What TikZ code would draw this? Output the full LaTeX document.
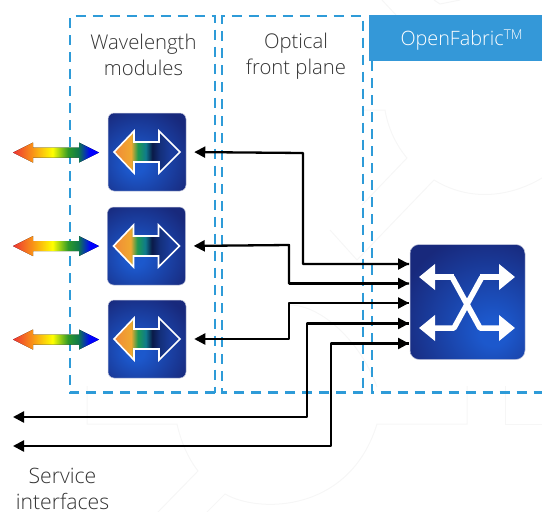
\documentclass[tikz,border=0pt]{standalone}
\usepackage{fontspec}
\setmainfont{Open Sans}[UprightFont=* Light]
\usetikzlibrary{arrows.meta,calc}
\definecolor{dashblue}{HTML}{2E9BD8}
\definecolor{ofblue}{HTML}{3498D8}
\definecolor{labelgray}{HTML}{333333}
\definecolor{rred}{HTML}{EE3333}
\definecolor{rorange}{HTML}{F89018}
\definecolor{rgreen}{HTML}{2E9A28}
\definecolor{rdgreen}{HTML}{0F7A4A}
\definecolor{iorange}{HTML}{F08A38}
\definecolor{iyellow}{HTML}{F0A830}
\definecolor{igreen}{HTML}{1F9A50}
\definecolor{iteal}{HTML}{0F7C8C}
\definecolor{iblack}{HTML}{0A1A48}
\definecolor{inavy}{HTML}{14307C}
\definecolor{iblue}{HTML}{1A3C9C}
\pgfdeclarehorizontalshading{rainbowsh}{100bp}{
  color(0bp)=(rred); color(25bp)=(rred);
  color(36bp)=(rorange); color(48bp)=(yellow);
  color(57bp)=(rgreen); color(63bp)=(rdgreen); color(70bp)=(blue); color(75bp)=(blue); color(100bp)=(blue)}
\pgfdeclarehorizontalshading{innersh}{100bp}{
  color(0bp)=(iorange); color(25bp)=(iorange);
  color(38bp)=(iyellow); color(43bp)=(igreen); color(49bp)=(iteal);
  color(54bp)=(iblack); color(60bp)=(inavy); color(68bp)=(iblue); color(100bp)=(iblue)}
\definecolor{bright}{HTML}{1C58CC}
\definecolor{navy}{HTML}{18297C}
\pgfdeclareradialshading{modsh}{\pgfpoint{-8bp}{-8bp}}{
  color(0bp)=(bright); color(6bp)=(bright); color(36bp)=(navy); color(100bp)=(navy)}
\pgfdeclareradialshading{swsh}{\pgfpoint{12bp}{-14bp}}{
  color(0bp)=(bright); color(6bp)=(bright); color(38bp)=(navy); color(100bp)=(navy)}
\tikzset{
  zone/.style={draw=dashblue,line width=2.2pt,dash pattern=on 10pt off 7pt},
  modbox/.style={minimum width=78pt,minimum height=78pt,rounded corners=6pt,shading=modsh,draw=navy!25,line width=.5pt,inner sep=0pt},
  swbox/.style={minimum width=115pt,minimum height=115pt,rounded corners=9pt,shading=swsh,draw=navy!25,line width=.5pt,inner sep=0pt},
  conn/.style={draw=black,line width=2.3pt,line join=round},
  tipfwd/.style={-{Triangle[length=11pt,width=11pt]}},
  tipback/.style={{Triangle[length=11pt,width=11pt]}-},
  caption/.style={text=labelgray,font=\fontsize{20.3}{26.5}\selectfont,align=center,inner sep=0pt},
  swline/.style={draw=white,line width=5.5pt,line join=round,-{Triangle[length=16pt,width=25pt]}},
  wm/.style={draw=black!3.5,line width=1pt},
}
\newcommand{\rainbowarrow}[1]{%
  \fill[shading=rainbowsh,shift={(#1)}] (13,0)--(33,-10)--(33,-5)--(79,-5)--(79,-10)--(99,0)--(79,10)--(79,5)--(33,5)--(33,10)--cycle;}
\newcommand{\innerarrow}[1]{%
  \draw[shading=innersh,draw=white,line width=1.6pt,miter limit=4,shift={(#1)}] (-33,0)--(-13,-21)--(-13,-10)--(12,-10)--(12,-21)--(33,0)--(12,21)--(12,10)--(-13,10)--(-13,21)--cycle;}
\begin{document}
\begin{tikzpicture}[x=1pt,y=-1pt]
\useasboundingbox (0,0) rectangle (542,512);
% watermark
\draw[wm] (87,386)--(87,424)--(177,424) .. controls (181,442) and (188,458) .. (198,471) -- (158,512);
\draw[wm] (207,512)--(225,494) .. controls (260,514) and (350,512) .. (377,424) -- (467,424) -- (467,386);
\draw[wm] (505,386)--(505,424)--(542,424);
\draw[wm] (362,110)--(385,110) .. controls (388,128) and (396,145) .. (407,158) -- (362,205);
\draw[wm] (330,230)--(357,260)--(434,180) .. controls (470,202) and (510,197) .. (542,178);
\draw[wm] (382,0)--(396,15);
\draw[wm] (434,0)--(440,4)--(460,0);
\draw[wm] (290,305) .. controls (320,305) and (360,340) .. (377,387);
% zones
\draw[zone] (215,392.5)--(70,392.5)--(70,16)--(215,16)--cycle;
\draw[zone] (363,392.5)--(222,392.5)--(222,16)--(363,16)--cycle;
\draw[zone] (372,61)--(372,392.5)--(542,392.5);
\node[fill=ofblue,minimum width=173pt,minimum height=46pt,inner sep=0pt,anchor=north west] (of) at (369,15) {};
\node[text=white,font=\fontsize{19.8}{24}\selectfont,inner sep=0pt] (oft) at (461.5,40) {OpenFabric\raisebox{6.5pt}{\fontsize{13.5}{13}\selectfont TM}};
% captions
\node[caption] (wl) at (143.5,55) {Wavelength\\modules};
\node[caption] (ofp) at (296,56) {Optical\\front plane};
\node[caption,font=\fontsize{21.2}{26.5}\selectfont] (si) at (62.5,489) {Service\\interfaces};
% modules
\node[modbox] (m1) at (147,152) {};
\node[modbox] (m2) at (146.5,246) {};
\node[modbox] (m3) at (147,339) {};
\innerarrow{m1.center}
\innerarrow{m2.center}
\innerarrow{m3.center}
\rainbowarrow{0,152.5}
\rainbowarrow{0,246}
\rainbowarrow{0,339.5}
% switch
\node[swbox] (sw) at (467.5,302) {};
\draw[swline] (452,277)--(480,328)--(515,328);
\draw[swline] (482,277)--(454,328)--(419,328);
\draw[swline] (480,277)--(515,277);
\draw[swline] (454,277)--(419,277);
% connector anchors
\coordinate (a1) at (409,264);
\coordinate (a2) at (409,283.5);
\coordinate (a3) at (409,303);
\coordinate (a4) at (409,323.5);
\coordinate (a5) at (409,343.5);
\coordinate (s1) at (13,417);
\coordinate (s2) at (13,446);
% connectors
\draw[conn,tipback,shorten <=8pt] (m1.east) -- (303,153) -- (303,264) -- (a1);
\draw[conn,tipfwd] (303,264) -- (a1);
\draw[conn,tipback,shorten <=8pt] (m2.east) -- (289,245) -- (289,283.5) -- (a2);
\draw[conn,tipfwd] (289,283.5) -- (a2);
\draw[conn,tipback,shorten <=8pt] (m3.east) -- (289,339) -- (289,303) -- (a3);
\draw[conn,tipfwd] (289,303) -- (a3);
\draw[conn,tipback] (s1) -- (307,417) -- (307,323.5) -- (a4);
\draw[conn,tipfwd] (307,323.5) -- (a4);
\draw[conn,tipback] (s2) -- (331,446) -- (331,343.5) -- (a5);
\draw[conn,tipfwd] (331,343.5) -- (a5);
\end{tikzpicture}
\end{document}
